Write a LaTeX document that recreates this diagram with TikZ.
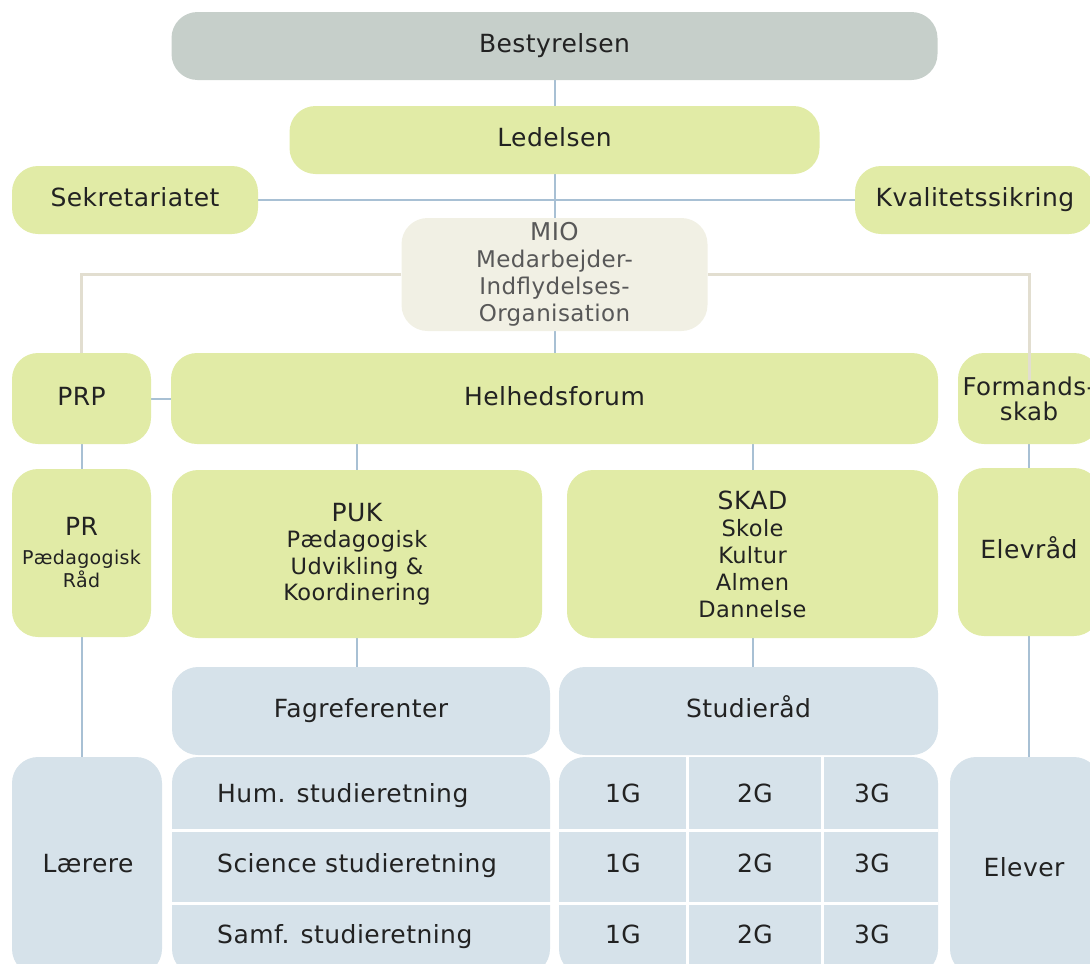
\documentclass[tikz,border=0pt]{standalone}
\usepackage{fontspec}
\setmainfont{DejaVu Sans}[LetterSpace=1.8]
\definecolor{boardgray}{HTML}{C6CFCA}
\definecolor{lgreen}{HTML}{E1EBA6}
\definecolor{miobeige}{HTML}{F1F0E4}
\definecolor{lblue}{HTML}{D6E2EA}
\definecolor{lineblue}{HTML}{A8C0D4}
\definecolor{linebeige}{HTML}{E2DED0}
\definecolor{txt}{HTML}{222222}
\definecolor{miotxt}{HTML}{585858}
\pgfdeclarelayer{background}
\pgfsetlayers{background,main}
\tikzset{
  box/.style={rectangle, rounded corners=26pt, inner sep=0pt, text=txt, align=center,
    font=\fontsize{25}{29}\selectfont},
  oneline/.style={text height=18pt, text depth=5pt},
  graybox/.style={box, fill=boardgray},
  greenbox/.style={box, fill=lgreen},
  miobox/.style={box, fill=miobeige, text=miotxt},
  bluebox/.style={box, fill=lblue},
  celltext/.style={inner sep=0pt, text=txt, font=\fontsize{25}{29}\selectfont, text height=18pt, text depth=5pt},
  blueline/.style={draw=lineblue, line width=2pt},
  beigeline/.style={draw=linebeige, line width=3pt},
  sepline/.style={draw=white, line width=3pt}
}
\begin{document}
\begin{tikzpicture}[x=1pt,y=-1pt]
\useasboundingbox (0,0) rectangle (1090,964);
\clip (0,0) rectangle (1090,964);

% row 1-2
\node[graybox, oneline, minimum width=766pt, minimum height=68pt] (best) at (554.5,46) {Bestyrelsen};
\node[greenbox, oneline, minimum width=530pt, minimum height=68pt] (led) at (554.5,140) {Ledelsen};
\node[greenbox, oneline, minimum width=246pt, minimum height=68pt] (sek) at (135,200) {Sekretariatet};
\node[greenbox, oneline, minimum width=240pt, minimum height=68pt] (kval) at (975,200) {Kvalitetssikring};

% MIO
\node[miobox, minimum width=306pt, minimum height=113pt, font=\fontsize{23}{27}\selectfont] (mio) at (554.5,274.5)
  {{\fontsize{24.5}{27}\selectfont MIO}\\Medarbejder-\\Indflydelses-\\Organisation};

% row 3
\node[greenbox, oneline, minimum width=139pt, minimum height=91pt] (prp) at (81.5,398.5) {PRP};
\node[greenbox, oneline, minimum width=767pt, minimum height=91pt] (helhed) at (554.5,398.5) {Helhedsforum};
\node[greenbox, minimum width=142pt, minimum height=91pt, font=\fontsize{24.5}{25}\selectfont] (formand) at (1029,398.5) {Formands-\\skab};

% row 4
\node[greenbox, minimum width=139pt, minimum height=168pt, font=\fontsize{19}{23}\selectfont] (pr) at (81.5,553)
  {{\fontsize{25}{29}\selectfont PR}\\[6pt]Pædagogisk\\Råd};
\node[greenbox, minimum width=370pt, minimum height=168pt, font=\fontsize{22.5}{26.5}\selectfont] (puk) at (357,554)
  {{\fontsize{25}{29}\selectfont PUK}\\Pædagogisk\\Udvikling \&\\Koordinering};
\node[greenbox, minimum width=371pt, minimum height=168pt, font=\fontsize{22.5}{27}\selectfont] (skad) at (752.5,554)
  {{\fontsize{25}{29}\selectfont SKAD}\\Skole\\Kultur\\Almen\\Dannelse};
\node[greenbox, oneline, minimum width=142pt, minimum height=168pt] (elevraad) at (1029,552) {Elevråd};

% row 5
\node[bluebox, oneline, minimum width=378pt, minimum height=88pt] (fag) at (361,711) {Fagreferenter};
\node[bluebox, oneline, minimum width=379pt, minimum height=88pt] (stud) at (748.5,711) {Studieråd};

% row 6
\node[bluebox, minimum width=150pt, minimum height=218pt] (laerere) at (87,866) {};
\node[celltext] (laererelbl) at (88,866) {Lærere};
\node[bluebox, minimum width=378pt, minimum height=218pt] (humgrid) at (361,866) {};
\node[bluebox, minimum width=379pt, minimum height=218pt] (ggrid) at (748.5,866) {};
\node[bluebox, minimum width=150pt, minimum height=218pt] (elever) at (1025,866) {};
\node[celltext] (eleverlbl) at (1024,870) {Elever};

% grid separators
\coordinate (hs1l) at (172,830); \coordinate (hs1r) at (938,830);
\coordinate (hs2l) at (172,903); \coordinate (hs2r) at (938,903);
\draw[sepline] (hs1l) -- (hs1r);
\draw[sepline] (hs2l) -- (hs2r);
\coordinate (vs1t) at (687,757); \coordinate (vs1b) at (687,964);
\coordinate (vs2t) at (822,757); \coordinate (vs2b) at (822,964);
\draw[sepline] (vs1t) -- (vs1b);
\draw[sepline] (vs2t) -- (vs2b);

% grid texts
\node[celltext, anchor=west] (hum) at (217,796) {Hum. studieretning};
\node[celltext, anchor=west] (sci) at (217,866) {Science studieretning};
\node[celltext, anchor=west] (samf) at (217,937) {Samf. studieretning};
\foreach \r/\y in {a/796, b/866, c/937} {
  \node[celltext] (g1\r) at (623,\y) {1G};
  \node[celltext] (g2\r) at (755,\y) {2G};
  \node[celltext] (g3\r) at (872,\y) {3G};
}

% connector into Formandsskab (drawn over the box)
\coordinate (formandin) at (1029,380);
\draw[beigeline] (formand.north) -- (formandin);

\begin{pgfonlayer}{background}
  \draw[blueline] (best.south) -- (led.north);
  \draw[blueline] (led.south) -- (mio.north);
  \draw[blueline] (mio.south) -- (helhed.north);
  \draw[blueline] (sek.east) -- (kval.west);
  \draw[beigeline] (mio.west) -| (prp.north);
  \draw[beigeline] (mio.east) -| (formand.north);
  \draw[blueline] (prp.east) -- (helhed.west);
  \draw[blueline] (prp.south) -- (pr.north);
  \draw[blueline] (puk.north |- helhed.south) -- (puk.north);
  \draw[blueline] (skad.north |- helhed.south) -- (skad.north);
  \draw[blueline] (formand.south) -- (elevraad.north);
  \draw[blueline] (pr.south) -- (pr.south |- laerere.north);
  \draw[blueline] (puk.south) -- (puk.south |- fag.north);
  \draw[blueline] (skad.south) -- (skad.south |- stud.north);
  \draw[blueline] (elevraad.south) -- (elevraad.south |- elever.north);
\end{pgfonlayer}
\end{tikzpicture}
\end{document}
